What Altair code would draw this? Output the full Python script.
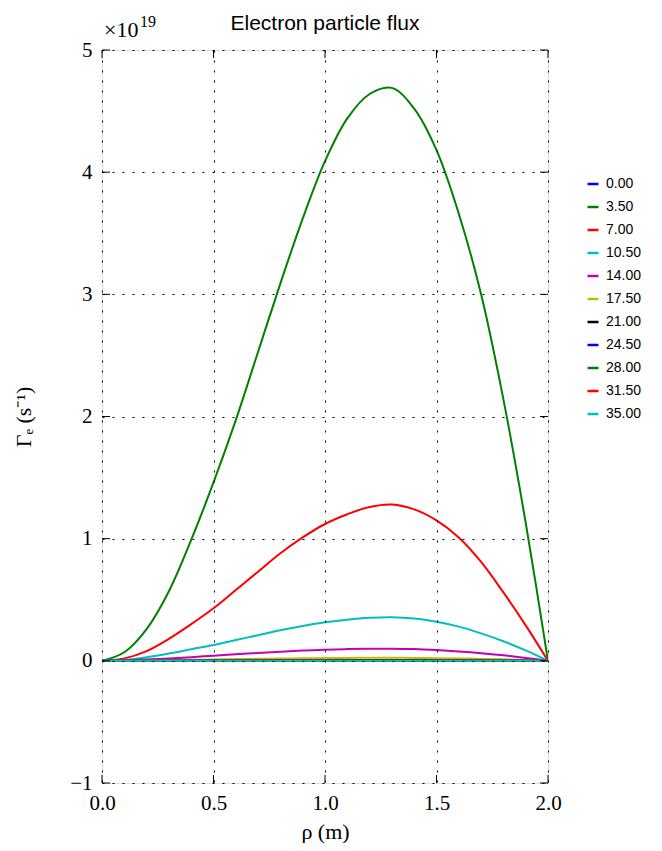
import altair as alt
import pandas as pd

rho = [0.0, 0.1, 0.2, 0.3, 0.4, 0.5, 0.6, 0.7, 0.8, 0.9, 1.0,
       1.1, 1.2, 1.3, 1.4, 1.5, 1.6, 1.7, 1.8, 1.9, 2.0]

labels = ["0.00", "3.50", "7.00", "10.50", "14.00", "17.50",
          "21.00", "24.50", "28.00", "31.50", "35.00"]
colors = ["#0000ff", "#008000", "#ff0000", "#00bfbf", "#bf00bf", "#bfbf00",
          "#000000", "#0000ff", "#008000", "#ff0000", "#00bfbf"]

# flux in units of 1e19 s^-1
s000 = [0, 0, 0, 0, 0, 0, 0, 0, 0, 0, 0, 0, 0, 0, 0, 0, 0, 0, 0, 0, 0]
s350 = [0, 0.07, 0.26, 0.57, 0.99, 1.46, 1.97, 2.53, 3.09, 3.62, 4.09,
        4.44, 4.64, 4.69, 4.52, 4.18, 3.66, 3.0, 2.14, 1.13, 0]
s700 = [0, 0.02, 0.08, 0.18, 0.3, 0.43, 0.58, 0.73, 0.88, 1.01, 1.12,
        1.2, 1.26, 1.28, 1.24, 1.15, 1.01, 0.81, 0.56, 0.29, 0]
s1050 = [0, 0.008, 0.03, 0.06, 0.095, 0.13, 0.17, 0.21, 0.25, 0.285, 0.315,
         0.337, 0.352, 0.357, 0.347, 0.32, 0.28, 0.225, 0.16, 0.085, 0]
s1400 = [0, 0.003, 0.01, 0.019, 0.03, 0.042, 0.054, 0.065, 0.075, 0.084, 0.091,
         0.096, 0.099, 0.099, 0.096, 0.088, 0.077, 0.063, 0.045, 0.024, 0]
s1750 = [0, 0.0008, 0.0025, 0.005, 0.008, 0.011, 0.014, 0.017, 0.019, 0.021, 0.023,
         0.024, 0.025, 0.025, 0.024, 0.022, 0.02, 0.016, 0.012, 0.006, 0]
s2100 = [0, 0.0002, 0.0006, 0.0012, 0.002, 0.0028, 0.0036, 0.0043, 0.0049, 0.0054, 0.0058,
         0.0061, 0.0063, 0.0063, 0.0061, 0.0056, 0.005, 0.0041, 0.003, 0.0016, 0]
s2450 = [0, 0, 0.0001, 0.0003, 0.0005, 0.0007, 0.0009, 0.0011, 0.0012, 0.0013, 0.0014,
         0.0015, 0.0016, 0.0016, 0.0015, 0.0014, 0.0012, 0.001, 0.0007, 0.0004, 0]
s2800 = [0, 0, 0, 0.0001, 0.0001, 0.0002, 0.0002, 0.0003, 0.0003, 0.0003, 0.0004,
         0.0004, 0.0004, 0.0004, 0.0004, 0.0003, 0.0003, 0.0002, 0.0002, 0.0001, 0]
s3150 = [0, 0, 0, 0, 0, 0, 0.0001, 0.0001, 0.0001, 0.0001, 0.0001,
         0.0001, 0.0001, 0.0001, 0.0001, 0.0001, 0.0001, 0.0001, 0, 0, 0]
s3500 = [0, 0, 0, 0, 0, 0, 0, 0, 0, 0, 0, 0, 0, 0, 0, 0, 0, 0, 0, 0, 0]

series = [s000, s350, s700, s1050, s1400, s1750, s2100, s2450, s2800, s3150, s3500]

x_ticks = [0.0, 0.5, 1.0, 1.5, 2.0]
y_ticks = [-1, 0, 1, 2, 3, 4, 5]

title_text = "Electron particle flux"
mult_base = "×10"
mult_exp = "19"

rows = []
for i, (lab, vals) in enumerate(zip(labels, series)):
    for r, v in zip(rho, vals):
        rows.append({"rho": r, "flux": v, "series": lab, "idx": i})
df = pd.DataFrame(rows)

W, H = 446, 733
SERIF = "Liberation Serif"
SANS = "Liberation Sans"

xscale = alt.Scale(domain=[0, 2], nice=False, zero=False)
yscale = alt.Scale(domain=[-1, 5], nice=False, zero=False)

x_axis = alt.Axis(values=x_ticks, format=".1f", labelFont=SERIF, labelFontSize=21,
                  labelColor="black", labelFlush=False, ticks=False, domain=False, grid=True,
                  gridDash=[2, 8], gridColor="black", gridOpacity=1, gridWidth=1,
                  labelPadding=9, title="ρ (m)", titleFont=SERIF, titleFontSize=22,
                  titleFontWeight="normal", titleColor="black", titlePadding=8, zindex=1)
y_axis = alt.Axis(values=y_ticks, labelFont=SERIF, labelFontSize=21, labelColor="black",
                  labelFlush=False,
                  labelExpr="datum.value < 0 ? '−' + abs(datum.value) : datum.value",
                  ticks=False, domain=False, grid=True, gridDash=[2, 8], gridColor="black",
                  gridOpacity=1, gridWidth=1, labelPadding=10, title="Γₑ (s⁻¹)",
                  titleFont=SERIF, titleFontSize=22, titleFontWeight="normal",
                  titleColor="black", titlePadding=34, zindex=1)

lines = alt.Chart(df).mark_line(strokeWidth=2, clip=True, interpolate="catmull-rom").encode(
    x=alt.X("rho:Q", scale=xscale, axis=x_axis),
    y=alt.Y("flux:Q", scale=yscale, axis=y_axis),
    color=alt.Color("series:N", sort=labels,
                    scale=alt.Scale(domain=labels, range=colors),
                    legend=alt.Legend(title=None, orient="none", legendX=484, legendY=127,
                                      symbolType="stroke", symbolStrokeWidth=2.5,
                                      symbolSize=120, labelFont=SANS, labelFontSize=14,
                                      labelColor="black", rowPadding=9, labelOffset=6)),
    order=alt.Order("idx:Q"),
)

xt = pd.DataFrame({"t": x_ticks})
yt = pd.DataFrame({"t": y_ticks})

xb = alt.Chart(xt).mark_rule(color="black", strokeWidth=1).encode(
    x=alt.X("t:Q", scale=xscale), y=alt.value(H - 8), y2=alt.value(H))
xtop = alt.Chart(xt).mark_rule(color="black", strokeWidth=1).encode(
    x=alt.X("t:Q", scale=xscale), y=alt.value(0), y2=alt.value(8))
yl = alt.Chart(yt).mark_rule(color="black", strokeWidth=1).encode(
    y=alt.Y("t:Q", scale=yscale), x=alt.value(0), x2=alt.value(8))
yr = alt.Chart(yt).mark_rule(color="black", strokeWidth=1).encode(
    y=alt.Y("t:Q", scale=yscale), x=alt.value(W - 8), x2=alt.value(W))

one = pd.DataFrame({"a": [0]})
mult1 = alt.Chart(one).mark_text(
    font=SERIF, fontSize=22, align="left", baseline="alphabetic", color="black",
    text=mult_base).encode(x=alt.value(2), y=alt.value(-13))
mult2 = alt.Chart(one).mark_text(
    font=SERIF, fontSize=16, align="left", baseline="alphabetic", color="black",
    text=mult_exp).encode(x=alt.value(38), y=alt.value(-23))
title = alt.Chart(one).mark_text(
    font=SANS, fontSize=21, align="center", baseline="alphabetic", color="black",
    text=title_text).encode(x=alt.value(W / 2), y=alt.value(-20))

chart = alt.layer(lines, xb, xtop, yl, yr, mult1, mult2, title).properties(
    width=W, height=H,
    autosize=alt.AutoSizeParams(type="none"),
    padding={"left": 94, "top": 42, "right": 104, "bottom": 60},
).configure_view(stroke="black", strokeWidth=2).configure(background="white")

chart.save("out.html", embed_options={"renderer": "svg", "actions": False})
